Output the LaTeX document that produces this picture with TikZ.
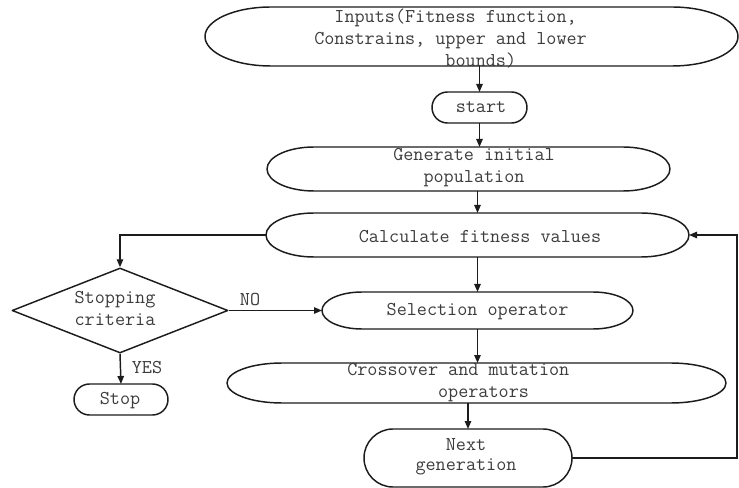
\documentclass[tikz,border=0pt]{standalone}
\usetikzlibrary{arrows.meta,shapes.geometric}
\definecolor{ink}{HTML}{1C1C1C}
\definecolor{txtc}{HTML}{3C3C3C}

% Outline with flat top/bottom and half-ellipse ends, fitted to a named slot node
% #1 node name, #2 horizontal end radius, #3 vertical end radius (both in px)
\newcommand\capsule[3]{%
  \draw[outline] ([shift={(#2,0)}]#1.north west) -- ([shift={(-#2,0)}]#1.north east)
    arc[start angle=90,end angle=-90,x radius=#2*0.75pt,y radius=#3*0.75pt]
    -- ([shift={(#2,0)}]#1.south west)
    arc[start angle=270,end angle=90,x radius=#2*0.75pt,y radius=#3*0.75pt] -- cycle;}

\begin{document}
\begin{tikzpicture}[x=0.75pt,y=-0.75pt,
  outline/.style={draw=ink,line width=1.1pt,line join=round},
  slot/.style 2 args={draw=none,inner sep=0pt,outer sep=0pt,
    minimum width=#1*0.75pt,minimum height=#2*0.75pt},
  txt/.style={text=txtc,inner sep=0pt,align=left,
    font=\ttfamily\fontsize{14.7}{16.6}\selectfont},
  arr/.style={draw=ink,line width=1.1pt,-{Triangle[length=6pt,width=4.8pt]}},
  link/.style={draw=ink,line width=1.1pt}]
\useasboundingbox (0,0) rectangle (739,488);

% shapes
\node[slot={533}{59}] (inputs) at (471.5,36.5) {};
\capsule{inputs}{66}{29.5}
\node[slot={95}{31}] (start) at (479.5,107.5) {};
\capsule{start}{15.5}{15.5}
\node[slot={403}{44}] (gen) at (468.5,169) {};
\capsule{gen}{47}{22}
\node[slot={423}{44}] (calc) at (477.5,235) {};
\capsule{calc}{48}{22}
\node[slot={311}{37}] (sel) at (477.5,310.5) {};
\capsule{sel}{40}{18.5}
\node[slot={499}{40}] (cross) at (476.5,383) {};
\capsule{cross}{55}{20}
\node[slot={208}{58}] (next) at (468,458) {};
\capsule{next}{29}{29}
\node[slot={94}{31}] (stop) at (121,399.5) {};
\capsule{stop}{15.5}{15.5}
\node[diamond,outline,inner sep=0pt,minimum width=216*0.75pt,
  minimum height=85*0.75pt] (crit) at (120,310.5) {};

% texts
\node[txt,anchor=west] (inputsT) at (314,38.5)
  {\phantom{xx}Inputs(Fitness function,\\Constrains, upper and lower\\\phantom{xxxxxxxxxxxxx}bounds)};
\node[txt] (startT) at (481,107) {start};
\node[txt,align=center] (genT) at (474,168) {Generate initial\\population};
\node[txt] (calcT) at (480,237) {Calculate fitness values};
\node[txt] (selT) at (477.5,312) {Selection operator};
\node[txt,anchor=west] (crossT) at (347,383)
  {Crossover and mutation\\\phantom{xxxxxxxxx}operators};
\node[txt,align=center,font=\ttfamily\fontsize{14.7}{15}\selectfont] (nextT) at (466,457) {Next\\generation};
\node[txt] (stopT) at (120,400.5) {Stop};
\node[txt,align=center] (critT) at (115,308.5) {Stopping\\criteria};
\node[txt] (noT) at (250,300) {NO};
\node[txt] (yesT) at (147,368) {YES};

% connectors
\coordinate (loop) at (737,300);
\draw[arr] (inputs.south -| start.north) -- (start.north);
\draw[arr] (start.south) -- (start.south |- gen.north);
\draw[arr] (gen.south -| calc.north) -- (calc.north);
\draw[arr] (calc.south) -- (sel.north);
\draw[arr] (sel.south) -- (sel.south |- cross.north);
\draw[arr] (cross.south -| next.north) -- (next.north);
\draw[arr] (calc.west) -| (crit.north);
\draw[arr] (crit.east) -- (sel.west);
\draw[arr] (crit.south) -- (stop.north);
\draw[arr] (next.east) -- (next.east -| loop) -- (calc.east -| loop) -- (calc.east);
\end{tikzpicture}
\end{document}
